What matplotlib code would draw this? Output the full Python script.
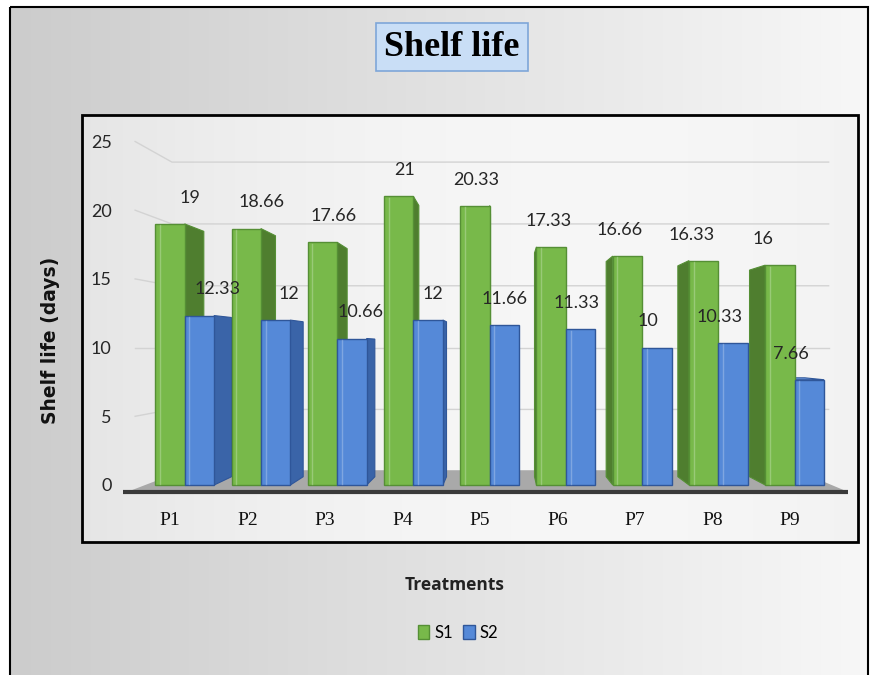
import numpy as np
import matplotlib.pyplot as plt
from matplotlib.patches import Rectangle, Polygon

# Datos
treatments = ['P1', 'P2', 'P3', 'P4', 'P5', 'P6', 'P7', 'P8', 'P9']
s1 = [19, 18.66, 17.66, 21, 20.33, 17.33, 16.66, 16.33, 16]
s2 = [12.33, 12, 10.66, 12, 11.66, 11.33, 10, 10.33, 7.66]
yticks = [0, 5, 10, 15, 20, 25]

W = 872
H = 675

# perspectiva falsa: punto de fuga en (xc, yc)
xc, yc = 4.3, 10.0
spacing = 0.984  # las barras quedan algo mas juntas que las etiquetas


def back(x, y, f):
    return (x + f * (xc - x), y + f * (yc - y))


fig = plt.figure(figsize=(8.72, 6.75), dpi=100)

# fondo con degradado
bg = fig.add_axes([0, 0, 1, 1])
bg.set_xlim(0, W)
bg.set_ylim(H, 0)
bg.axis('off')

t = np.linspace(0, 1, 256)
outer = np.zeros((2, 256, 3))
for k in range(3):
    outer[:, :, k] = 0.80 + 0.17 * t
bg.imshow(outer, extent=(10, 868, 675, 7), aspect='auto', interpolation='bilinear')
bg.add_patch(Rectangle((10, 7), 858, 675, fill=False, lw=1.5, edgecolor='black'))

inner = np.zeros((2, 256, 3))
prof = 1.0 - 0.10 * (1 - t) ** 2 - 0.05 * t ** 2
for k in range(3):
    inner[:, :, k] = prof
bg.imshow(inner, extent=(82, 858, 542, 115), aspect='auto', interpolation='bilinear')
bg.add_patch(Rectangle((82, 115), 776, 427, fill=False, lw=2, edgecolor='black'))

# titulo
fig.text(452 / W, 1 - 47 / H, 'Shelf life', ha='center', va='center',
         family='Liberation Serif', weight='bold', fontsize=26,
         bbox=dict(boxstyle='square,pad=0.22', facecolor='#c9def6', edgecolor='#7ea6d8', lw=1.2))

# ejes principales
ax = fig.add_axes([120 / W, (H - 505) / H, 728 / W, 380 / H])
ax.patch.set_alpha(0)
ax.set_xlim(-0.645, 8.75)
ax.set_ylim(-1.456, 26.2)
for s in ax.spines.values():
    s.set_visible(False)

# lineas de cuadricula en la pared del fondo
for v in yticks[1:]:
    bx, by = back(-0.45, v, 0.1)
    ax.plot([-0.45, bx, 8.5], [v, by, by], color='#d3d3d3', lw=1, zorder=1)

# piso
fl = [(-0.55, -0.5), (8.75, -0.5), back(8.75, -0.5, 0.15), back(-0.55, -0.5, 0.15)]
ax.add_patch(Polygon(fl, closed=True, facecolor='#a9a9a9', edgecolor='none', zorder=1.5))
ax.plot([-0.6, 8.75], [-0.5, -0.5], color='#3a3a3a', lw=3, solid_capstyle='butt', zorder=1.6)

w = 0.38
f = 0.06
series = [
    (s1, 0.0, '#78b94a', '#4f7e2f', '#8cc862', '#558f35'),
    (s2, w, '#5589d8', '#3a64a8', '#6f9de2', '#2f5699'),
]

for vals, off, cfront, cside, ctop, cedge in series:
    for i, h in enumerate(vals):
        x0 = i * spacing - w / 2 + off
        x1 = x0 + w
        # cara lateral
        if xc - x1 > 0:
            xs = x1
        else:
            xs = x0
        side = [(xs, 0), (xs, h), back(xs, h, f), back(xs, 0, f)]
        ax.add_patch(Polygon(side, closed=True, facecolor=cside, edgecolor=cedge, lw=0.8, zorder=2))
        # cara superior (solo si se ve)
        if h < yc:
            top = [(x0, h), (x1, h), back(x1, h, f), back(x0, h, f)]
            ax.add_patch(Polygon(top, closed=True, facecolor=ctop, edgecolor=cedge, lw=0.8, zorder=2.5))
        # cara frontal
        ax.add_patch(Rectangle((x0, 0), w, h, facecolor=cfront, edgecolor=cedge, lw=1.0, zorder=3))
        ax.plot([x0 + 0.06, x0 + 0.06], [0.05, h - 0.1], color='white', alpha=0.25, lw=1, zorder=3.1)
        # etiqueta
        bx, _ = back((x0 + x1) / 2, h, f)
        ax.text(bx, h + 1.9, f'{h:g}', ha='center', va='center', family='Lato',
                fontsize=13, color='#262626', zorder=4)

ax.set_yticks(yticks)
ax.set_yticklabels([str(v) for v in yticks], family='Lato', fontsize=13, color='#262626')
ax.set_xticks(range(len(treatments)))
ax.set_xticklabels(treatments, family='Liberation Serif', fontsize=14, color='#111111')
ax.tick_params(axis='both', length=0)
ax.tick_params(axis='y', pad=6)
ax.tick_params(axis='x', pad=5)

# etiquetas de ejes
fig.text(50 / W, 1 - 340 / H, 'Shelf life (days)', rotation=90, ha='center', va='center',
         family='DejaVu Sans', weight='bold', fontsize=13.5, color='#111111')
fig.text(455 / W, 1 - 585 / H, 'Treatments', ha='center', va='center',
         family='Open Sans', weight='bold', fontsize=12.5, color='#222222')

# leyenda
h1 = Rectangle((0, 0), 1, 1, facecolor='#78b94a', edgecolor='#558f35')
h2 = Rectangle((0, 0), 1, 1, facecolor='#5589d8', edgecolor='#2f5699')
fig.legend([h1, h2], ['S1', 'S2'], loc='center', bbox_to_anchor=(458 / W, 1 - 633 / H),
           ncol=2, frameon=False, handlelength=0.7, handleheight=0.9, handletextpad=0.3,
           columnspacing=0.6, prop={'family': 'Lato', 'size': 12})

fig.savefig('out.png', dpi=100)
